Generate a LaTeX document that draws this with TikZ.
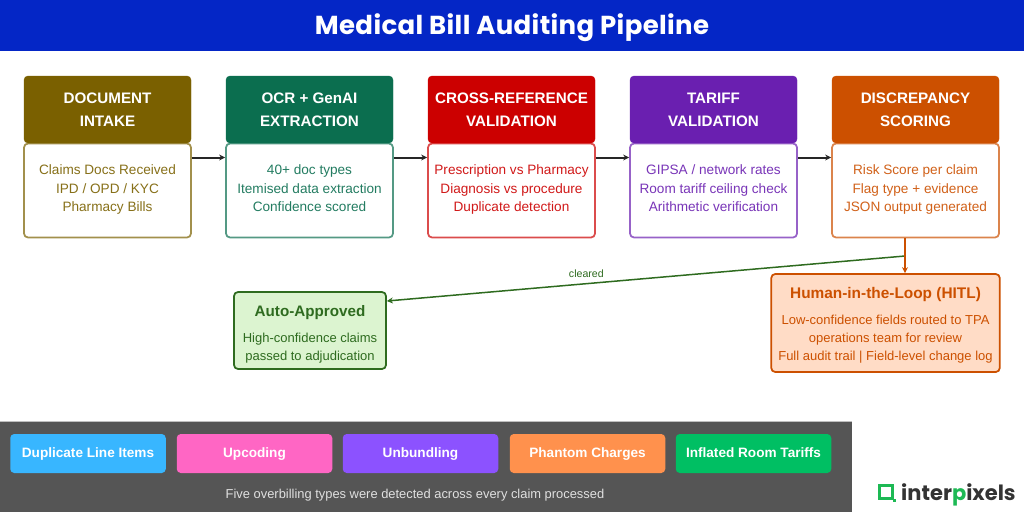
\documentclass[tikz,border=0pt]{standalone}
\usepackage{fontspec}
\setmainfont{Liberation Sans}
\newfontfamily\logofont{Poppins}
\newfontfamily\titlefont{Poppins}[LetterSpace = 1.4]
\usetikzlibrary{arrows.meta}

\definecolor{titleblue}{HTML}{0426C6}
\definecolor{intakecol}{HTML}{7A6000}
\definecolor{ocrcol}{HTML}{0B6E4F}
\definecolor{crosscol}{HTML}{CC0000}
\definecolor{tariffcol}{HTML}{6A1FB0}
\definecolor{scorecol}{HTML}{CC5000}
\definecolor{approvecol}{HTML}{2E6B1F}
\definecolor{approvefill}{HTML}{DCF4D0}
\definecolor{hitlfill}{HTML}{FFDCC6}
\definecolor{bandcol}{HTML}{555555}
\definecolor{logogreen}{HTML}{1DB954}
\definecolor{chipblue}{HTML}{38B6FF}
\definecolor{chippink}{HTML}{FF66C4}
\definecolor{chippurple}{HTML}{8C52FF}
\definecolor{chiporange}{HTML}{FF914D}
\definecolor{chipgreen}{HTML}{00BF63}

\begin{document}
\begin{tikzpicture}[
        x = 1pt,
        y = -1pt,
        cardhead/.style = {%
            fill = #1,
            draw = #1,
            rounded corners = 4pt,
            minimum width = 167pt,
            minimum height = 67pt,
            inner sep = 0pt,
            align = center,
            text = white,
            font = \fontsize{15.2}{23}\selectfont\bfseries
        },
        cardbody/.style = {%
            fill = white,
            draw = #1!70!white,
            line width = 1.75pt,
            rounded corners = 4pt,
            minimum width = 167pt,
            minimum height = 94pt,
            inner sep = 0pt,
            align = center,
            text = #1!90!white,
            execute at begin node = \rule{0pt}{14pt},
            execute at end node = \rule[-4.6pt]{0pt}{4.6pt},
            font = \fontsize{13.6}{18.6}\selectfont
        },
        outcome/.style = {%
            draw = #1,
            line width = 1.75pt,
            rounded corners = 4pt,
            inner sep = 0pt,
            align = center,
            text = #1,
            font = \fontsize{13}{18}\selectfont
        },
        chip/.style = {%
            fill = #1,
            rounded corners = 4pt,
            minimum width = 155.5pt,
            minimum height = 39pt,
            inner sep = 0pt,
            text = white,
            text height = 10pt,
            text depth = 3pt,
            font = \fontsize{13.6}{16}\selectfont\bfseries
        },
        flow/.style = {%
            draw = black!85,
            line width = 2pt,
            -{Stealth[length = 6pt, width = 6pt]}
        }
    ]

        \useasboundingbox (0, 0) rectangle (1024, 512);

        % Title bar and the grey strip along the bottom.
        \fill[titleblue] (0, 0) rectangle (1024, 51);
        \node[text = white, font = \titlefont\fontsize{26}{30}\selectfont\bfseries] (title) at (512, 28) {Medical Bill Auditing Pipeline};
        \fill[bandcol] (0, 421) rectangle (852, 512);
        \draw[black!25, line width = 0.75pt] (0, 421) -- (852, 421);

        % Bodies of the five cards.
        \node[cardbody = intakecol] (bodyA) at (107.5, 190.5) {Claims Docs Received\\IPD / OPD / KYC\\Pharmacy Bills};
        \node[cardbody = ocrcol] (bodyB) at (309.5, 190.5) {40+ doc types\\Itemised data extraction\\Confidence scored};
        \node[cardbody = crosscol] (bodyC) at (511.5, 190.5) {Prescription vs Pharmacy\\Diagnosis vs procedure\\Duplicate detection};
        \node[cardbody = tariffcol] (bodyD) at (713.5, 190.5) {GIPSA / network rates\\Room tariff ceiling check\\Arithmetic verification};
        \node[cardbody = scorecol] (bodyE) at (915.5, 190.5) {Risk Score per claim\\Flag type + evidence\\JSON output generated};

        % Heads of the five cards.
        \node[cardhead = intakecol] (headA) at (107.5, 109.5) {DOCUMENT\\INTAKE};
        \node[cardhead = ocrcol] (headB) at (309.5, 109.5) {OCR + GenAI\\EXTRACTION};
        \node[cardhead = crosscol] (headC) at (511.5, 109.5) {CROSS-REFERENCE\\VALIDATION};
        \node[cardhead = tariffcol] (headD) at (713.5, 109.5) {TARIFF\\VALIDATION};
        \node[cardhead = scorecol] (headE) at (915.5, 109.5) {DISCREPANCY\\SCORING};

        % Arrows between the cards.
        \draw[flow] ([yshift = 33pt]bodyA.east) -- ([yshift = 33pt]bodyB.west);
        \draw[flow] ([yshift = 33pt]bodyB.east) -- ([yshift = 33pt]bodyC.west);
        \draw[flow] ([yshift = 33pt]bodyC.east) -- ([yshift = 33pt]bodyD.west);
        \draw[flow] ([yshift = 33pt]bodyD.east) -- ([yshift = 33pt]bodyE.west);

        % The two outcomes.
        \node[outcome = approvecol, fill = approvefill, minimum width = 152pt, minimum height = 77pt] (approved) at (310, 330.5) {%
            \rule{0pt}{18pt}{\fontsize{15.2}{24}\selectfont\bfseries Auto-Approved}\\[8pt]
            High-confidence claims\\passed to adjudication};
        \node[outcome = scorecol, fill = hitlfill, minimum width = 228.5pt, minimum height = 98pt] (hitl) at (885.5, 323) {%
            \rule{0pt}{16pt}{\fontsize{15.4}{24}\selectfont\bfseries Human-in-the-Loop (HITL)}\\[8pt]
            Low-confidence fields routed to TPA\\operations team for review\\Full audit trail | Field-level change log};

        % Split below the last card.
        \coordinate (split) at (905, 256);
        \draw[approvecol, line width = 1.5pt, -{Stealth[length = 6pt, width = 6pt]}] (split) -- node[pos = 0.615, above = 1.5pt, font = \fontsize{10.6}{12}\selectfont] (cleared) {cleared} ([yshift = 29.5pt]approved.east);
        \draw[scorecol, line width = 1.5pt, -{Stealth[length = 6pt, width = 6pt]}] (bodyE.south -| split) -- (split |- hitl.north);

        % Chips for the overbilling types.
        \node[chip = chipblue] (chipA) at (88, 453.5) {Duplicate Line Items};
        \node[chip = chippink] (chipB) at (254.5, 453.5) {Upcoding};
        \node[chip = chippurple] (chipC) at (420.5, 453.5) {Unbundling};
        \node[chip = chiporange] (chipD) at (587.5, 453.5) {Phantom Charges};
        \node[chip = chipgreen] (chipE) at (753.5, 453.5) {Inflated Room Tariffs};
        \node[text = black!12, font = \fontsize{12.9}{15}\selectfont] (caption) at (415, 495.5) {Five overbilling types were detected across every claim processed};

        % Logo.
        \draw[logogreen, line width = 2.25pt] (879.5, 485.5) rectangle (892.5, 498.5);
        \fill[logogreen] (893, 499) rectangle (895.5, 501.5);
        \node[anchor = west, inner sep = 0pt, text = black!80, font = \logofont\bfseries\fontsize{21}{24}\selectfont] (logo) at (901, 495) {inter{\color{logogreen}p}ixels};
    \end{tikzpicture}
\end{document}
